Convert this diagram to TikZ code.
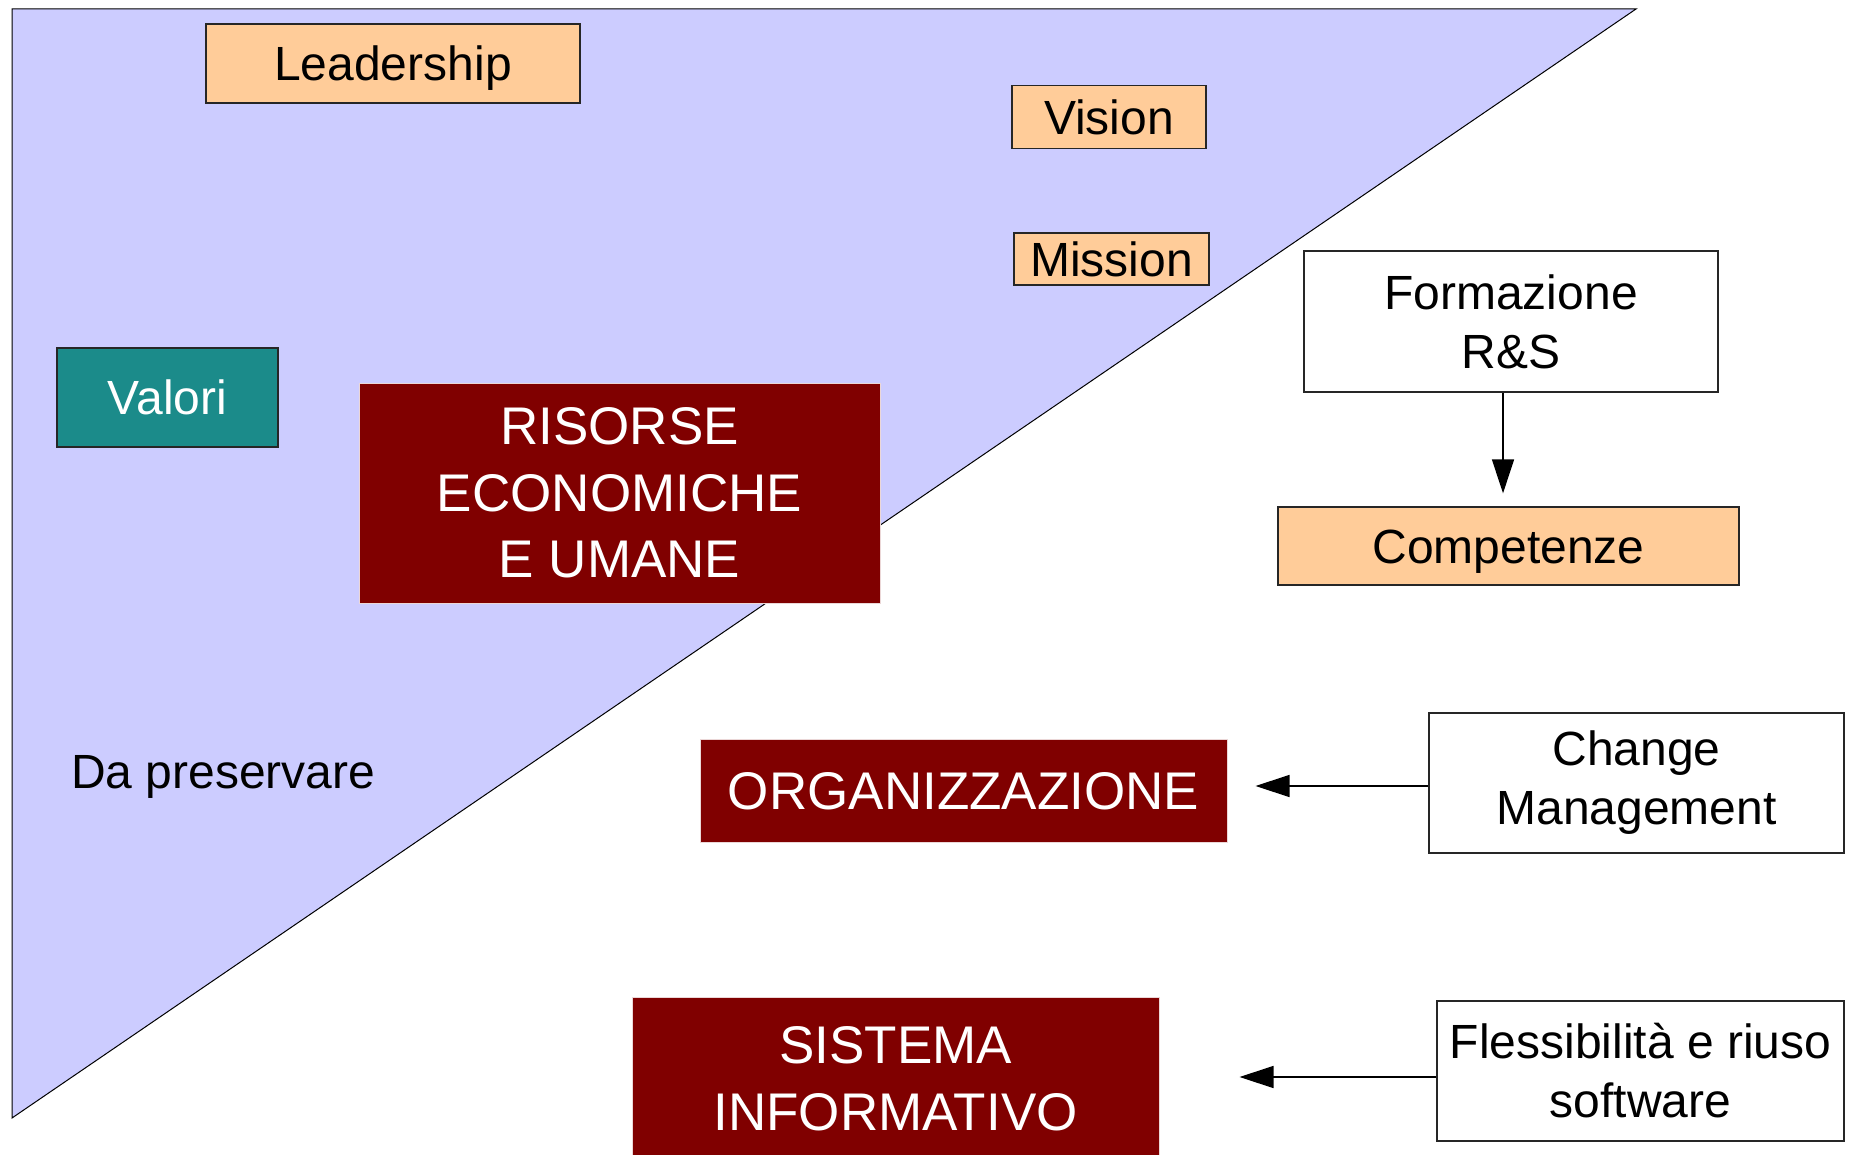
\documentclass[tikz,border=0pt]{standalone}
\usepackage{fontspec}
\setmainfont{Liberation Sans}
\usetikzlibrary{arrows.meta}
\definecolor{lav}{RGB}{204,204,255}
\definecolor{peach}{RGB}{255,204,153}
\definecolor{tealbox}{RGB}{27,139,138}
\definecolor{maroonbox}{RGB}{128,0,0}
\definecolor{maroonedge}{RGB}{235,215,215}
\tikzset{
  box/.style={draw=black!85, line width=1.3pt, inner sep=0pt, align=center},
  small/.style={font=\fontsize{48}{59}\selectfont},
  big/.style={font=\fontsize{53}{66.5}\selectfont, text=white},
  onesmall/.style={text height=34.5pt, text depth=0pt},
  onebig/.style={text height=38pt, text depth=0pt},
  peachbox/.style={box, small, fill=peach},
  whitebox/.style={box, small, fill=white},
  redbox/.style={box, big, fill=maroonbox, draw=maroonedge, line width=1pt},
  arr/.style={draw=black, line width=1.4pt, -{Triangle[length=34pt,width=22pt]}}
}
\begin{document}
\begin{tikzpicture}[x=1pt,y=-1pt]
\useasboundingbox (0,0) rectangle (1849,1155);
\fill[white] (0,0) rectangle (1849,1155);
% triangle
\filldraw[fill=lav, draw=black, line width=1pt] (12,9) -- (1636,9) -- (12,1118) -- cycle;

\node[peachbox, onesmall, minimum width=374pt, minimum height=79pt] (lead) at (393,63.5) {Leadership};
\node[peachbox, onesmall, minimum width=194pt, minimum height=63pt] (vis) at (1109,117) {Vision};
\node[peachbox, onesmall, minimum width=195pt, minimum height=52pt] (mis) at (1111.5,259) {Mission};
\node[box, small, onesmall, fill=tealbox, text=white, minimum width=221pt, minimum height=99pt] (val) at (167.5,397.5) {Valori};
\node[redbox, minimum width=521pt, minimum height=220pt] (ris) at (619.5,493) {RISORSE\\ECONOMICHE\\E UMANE};
\node[small, anchor=base west, inner sep=0pt] (da) at (71,788) {Da preservare};

\node[whitebox, minimum width=414pt, minimum height=141pt] (form) at (1511,321.5) {Formazione\\R\&S};
\node[peachbox, onesmall, minimum width=461pt, minimum height=78pt] (comp) at (1508.5,546) {Competenze};

\node[redbox, onebig, minimum width=527pt, minimum height=103pt] (org) at (963.5,790.5) {ORGANIZZAZIONE};
\node[whitebox, minimum width=415pt, minimum height=140pt] (chg) at (1636.5,783) {Change\\Management};

\node[redbox, minimum width=527pt, minimum height=163pt] (sis) at (895.5,1078.5) {SISTEMA\\INFORMATIVO};
\node[whitebox, minimum width=407pt, minimum height=140pt] (flex) at (1640.5,1071) {Flessibilità e riuso\\software};

\draw[arr, shorten >=13pt] ([xshift=-8pt]form.south) -- ([xshift=-8pt]form.south |- comp.north);
\draw[arr, shorten >=28pt] ([yshift=-3pt]chg.west) -- ([yshift=-3pt]chg.west -| org.east);
\draw[arr, shorten >=80pt] ([yshift=-6pt]flex.west) -- ([yshift=-6pt]flex.west -| sis.east);
\end{tikzpicture}
\end{document}
